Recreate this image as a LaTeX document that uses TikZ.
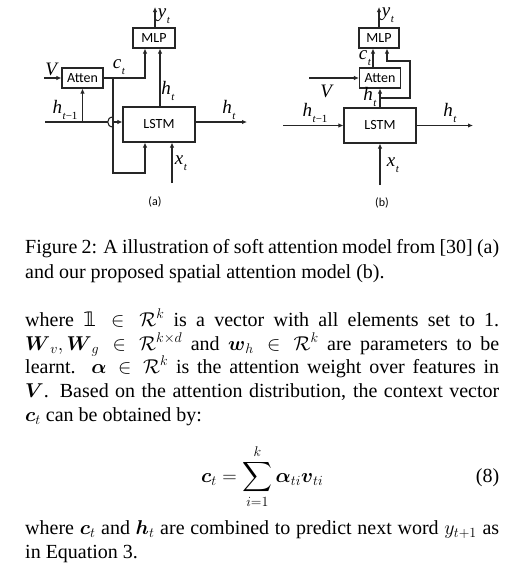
\RequirePackage{fix-cm}
\documentclass[tikz,border=0pt]{standalone}
\usepackage{amsmath}
\usepackage{fontspec}
\setmainfont{Liberation Serif}
\newfontfamily\boxfont{Carlito}
\newfontfamily\djv{DejaVu Sans}
\usetikzlibrary{arrows.meta}
\newcommand\bv[1]{\boldsymbol{#1}}
\newcommand\one{\mbox{\djv 𝟙}}
\newcommand\lab[2]{\textit{#1}\kern0.5pt\raisebox{-0.3em}{\fontsize{11}{11}\selectfont #2}}
\begin{document}
\begin{tikzpicture}[x=1pt,y=-1pt,
  box/.style={draw=black!85, line width=1.1pt, rectangle, inner sep=0pt, font=\boxfont\fontsize{14}{14}\selectfont},
  conn/.style={draw=black!85, line width=1.1pt},
  arr/.style={conn, -{Latex[length=5pt,width=4.5pt]}},
  lbl/.style={inner sep=0pt, font=\fontsize{19}{19}\selectfont},
  sub/.style={inner sep=0pt, font=\boxfont\fontsize{12}{12}\selectfont},
  txt/.style={anchor=base west, inner sep=0pt, font=\fontsize{20}{24}\selectfont}]
\useasboundingbox (0,0) rectangle (524,570);
\fill[white] (0,0) rectangle (524,570);

% ---------- (a) ----------
\node[box, minimum width=42pt, minimum height=20pt] (mlpA) at (154,38) {MLP};
\node[box, minimum width=41pt, minimum height=20pt] (attA) at (82.5,78) {Atten};
\node[box, minimum width=72pt, minimum height=35pt] (lstmA) at (159,124.5) {LSTM};
\coordinate (vA) at (44,78);
\coordinate (hA0) at (45,122);
\coordinate (hA1) at (108,122);
\coordinate (hA2) at (114,122);
\coordinate (jt) at (113,117);
\coordinate (jb) at (113,127);
\coordinate (dA0) at (113,78);
\coordinate (dA1) at (113,173);
\coordinate (yA) at (155,7);
\coordinate (oA) at (247,122);
\coordinate (xA) at (172,183);
\draw[arr] (vA) -- (attA.west);
\draw[conn] (hA0) -- (hA1);
\draw[conn] (jt) .. controls (106,117) and (106,127) .. (jb);
\draw[arr] (hA2) -- (lstmA.west |- hA2);
\draw[arr] (attA.south |- hA0) -- (attA.south);
\draw[arr] (attA.east) -| ([xshift=-9pt]mlpA.south);
\draw[arr] (dA0) -- (dA1) -| ([xshift=-14pt]lstmA.south);
\draw[arr] ([xshift=1pt]lstmA.north) -- ([xshift=6pt]mlpA.south);
\draw[arr] ([xshift=1pt]mlpA.north) -- (yA);
\draw[arr] (lstmA.east |- oA) -- (oA);
\draw[arr] (xA) -- (xA |- lstmA.south);
\node[lbl] (lVA) at (52,69) {\textit{V}};
\node[lbl] (lcA) at (119,67) {\lab{c}{\textit{t}}};
\node[lbl] (lhmA) at (65,110) {\lab{h}{\textit{t}−1}};
\node[lbl] (lhA) at (168,91) {\lab{h}{\textit{t}}};
\node[lbl] (lhoA) at (229,110) {\lab{h}{\textit{t}}};
\node[lbl] (lyA) at (164,16) {\lab{y}{\textit{t}}};
\node[lbl] (lxA) at (181,163) {\lab{x}{\textit{t}}};
\node[sub] (capA) at (155,202) {(a)};

% ---------- (b) ----------
\node[box, minimum width=40pt, minimum height=20pt] (mlpB) at (379,38) {MLP};
\node[box, minimum width=41pt, minimum height=20pt] (attB) at (380,78) {Atten};
\node[box, minimum width=72pt, minimum height=35pt] (lstmB) at (380,125.5) {LSTM};
\coordinate (yB) at (379,7);
\coordinate (vB) at (309,78);
\coordinate (hB0) at (283,125.5);
\coordinate (oB) at (473,125.5);
\coordinate (xB) at (380,185);
\coordinate (bB0) at (380,98);
\coordinate (bB1) at (410,98);
\coordinate (bB2) at (410,61);
\coordinate (bB3) at (387,61);
\draw[arr] (mlpB.north) -- (yB);
\draw[arr] ([xshift=-7pt]attB.north) -- ([xshift=-6pt]mlpB.south);
\draw[arr] (lstmB.north) -- (attB.south);
\draw[arr] (bB0) -- (bB1) -- (bB2) -- (bB3) -- (bB3 |- mlpB.south);
\draw[arr] (vB) -- (attB.west);
\draw[arr] (hB0) -- (lstmB.west);
\draw[arr] (lstmB.east) -- (oB);
\draw[arr] (xB) -- (lstmB.south);
\node[lbl] (lyB) at (388,15) {\lab{y}{\textit{t}}};
\node[lbl] (lcB) at (365,58) {\lab{c}{\textit{t}}};
\node[lbl] (lVB) at (327,91) {\textit{V}};
\node[lbl] (lhB) at (370,97) {\lab{h}{\textit{t}}};
\node[lbl] (lhmB) at (315,113) {\lab{h}{\textit{t}−1}};
\node[lbl] (lhoB) at (450,113) {\lab{h}{\textit{t}}};
\node[lbl] (lxB) at (393,165) {\lab{x}{\textit{t}}};
\node[sub] (capB) at (382,203) {(b)};

% ---------- caption and text ----------
\node[txt] (c1) at (25,253) {\hbox to 474pt{Figure 2: A illustration of soft attention model from [30] (a)}};
\node[txt] (c2) at (25,278) {\hbox to 474pt{and our proposed spatial attention model (b).\hfil}};
\node[txt] (t1) at (25,326) {\hbox to 474pt{where $\one \in \mathcal{R}^k$ is a vector with all elements set to 1.}};
\node[txt] (t2) at (25,350) {\hbox to 474pt{$\bv{W}_v, \bv{W}_g \in \mathcal{R}^{k\times d}$ and $\bv{w}_h \in \mathcal{R}^k$ are parameters to be}};
\node[txt] (t3) at (25,373) {\hbox to 474pt{learnt.\ \ $\bv{\alpha} \in \mathcal{R}^k$ is the attention weight over features in}};
\node[txt] (t4) at (25,397) {\hbox to 474pt{$\bv{V}$. Based on the attention distribution, the context vector}};
\node[txt] (t5) at (25,421) {\hbox to 474pt{$\bv{c}_t$ can be obtained by:\hfil}};
\node[txt] (eq) at (25,482) {\hbox to 474pt{\hfil$\displaystyle \bv{c}_t = \sum_{i=1}^{k} \bv{\alpha}_{ti}\bv{v}_{ti}$\hfil\llap{(8)}}};
\node[txt] (t7) at (25,534) {\hbox to 474pt{where $\bv{c}_t$ and $\bv{h}_t$ are combined to predict next word $y_{t+1}$ as}};
\node[txt] (t8) at (25,558) {\hbox to 474pt{in Equation 3.\hfil}};
\end{tikzpicture}
\end{document}
